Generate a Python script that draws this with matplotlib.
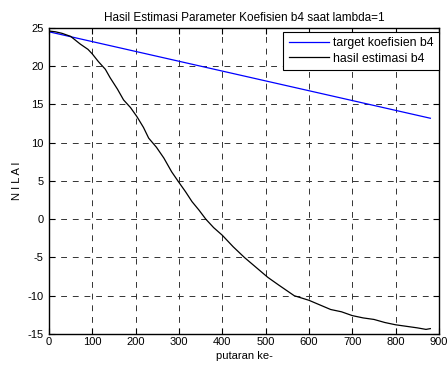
import matplotlib.pyplot as plt

plt.rcParams['font.family'] = ['Liberation Sans', 'DejaVu Sans']
plt.rcParams['axes.unicode_minus'] = False

# target coefficient (straight line)
target_x = [0, 880]
target_y = [24.5, 13.2]

# estimated coefficient
est_x = [0, 15, 30, 50, 72, 90, 100, 114, 130, 141, 158, 172, 188, 203, 218,
         230, 248, 265, 283, 300, 315, 330, 346, 362, 380, 400, 425, 451, 478,
         505, 530, 566, 600, 625, 650, 675, 700, 725, 750, 775, 800, 825, 850,
         870, 880]
est_y = [24.6, 24.5, 24.3, 23.9, 22.9, 22.2, 21.6, 20.6, 19.6, 18.5, 17.0, 15.6,
         14.6, 13.4, 12.0, 10.6, 9.4, 8.0, 6.2, 4.8, 3.6, 2.3, 1.2, 0.0, -1.1,
         -2.1, -3.6, -5.0, -6.3, -7.6, -8.6, -10.0, -10.6, -11.2, -11.8, -12.1,
         -12.6, -12.9, -13.1, -13.5, -13.8, -14.0, -14.2, -14.4, -14.3]

fig = plt.figure(figsize=(4.48, 3.69), dpi=100)
ax = fig.add_axes([0.1094, 0.0949, 0.8705, 0.8293])

ax.plot(target_x, target_y, color='#0000ff', lw=0.9, label='target koefisien b4')
ax.plot(est_x, est_y, color='black', lw=0.9, label='hasil estimasi b4')

ax.set_xlim(0, 900)
ax.set_ylim(-15, 25)
ax.set_xticks(range(0, 901, 100))
ax.set_yticks(range(-15, 26, 5))
ax.tick_params(direction='in', top=True, right=True, labelsize=8, length=4, width=0.8)
ax.tick_params(axis='y', pad=4)
ax.tick_params(axis='x', pad=2)
ax.grid(True, color='0.2', linestyle=(0, (6, 6)), linewidth=0.7)
for s in ax.spines.values():
    s.set_linewidth(1.0)

ax.set_title('Hasil Estimasi Parameter Koefisien b4 saat lambda=1', fontsize=8.5, pad=5)
ax.set_xlabel('putaran ke-', fontsize=8, labelpad=3)
ax.set_ylabel('N I L A I', fontsize=8, labelpad=4)

leg = ax.legend(loc='upper right', bbox_to_anchor=(1.0, 0.987), fontsize=8.8,
                fancybox=False, framealpha=1, edgecolor='black', borderaxespad=0,
                handlelength=3.3, handletextpad=0.3, borderpad=0.45,
                labelspacing=0.25)
leg.get_frame().set_linewidth(0.8)

fig.savefig('out.png', dpi=100)
